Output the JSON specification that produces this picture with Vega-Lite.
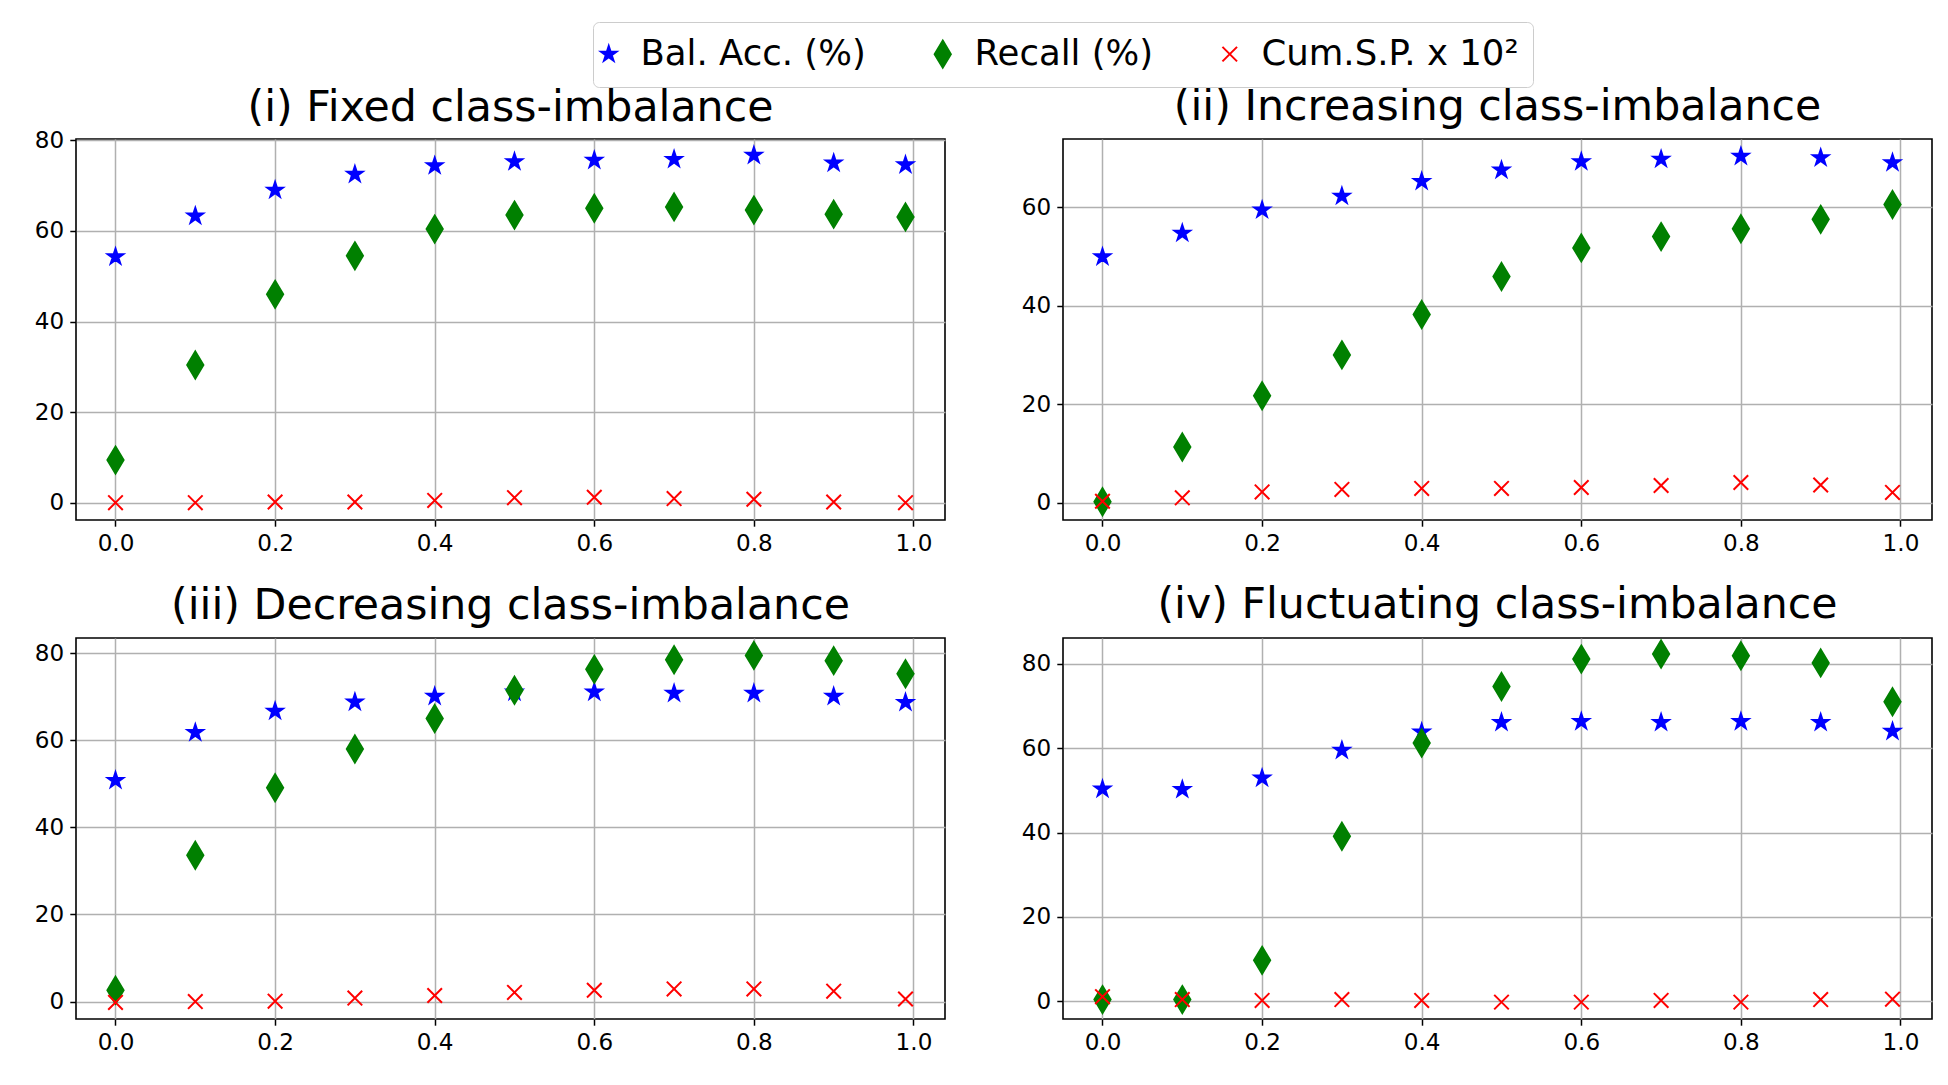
{
  "$schema": "https://vega.github.io/schema/vega-lite/v6.json",
  "background": "white",
  "padding": {"left": 33, "top": 21, "right": 10, "bottom": 10},
  "data": {
    "values": [
      {"p": "i", "s": "b", "x": 0, "v": 54.3},
      {"p": "i", "s": "b", "x": 0.1, "v": 63.3},
      {"p": "i", "s": "b", "x": 0.2, "v": 69.0},
      {"p": "i", "s": "b", "x": 0.3, "v": 72.5},
      {"p": "i", "s": "b", "x": 0.4, "v": 74.4},
      {"p": "i", "s": "b", "x": 0.5, "v": 75.3},
      {"p": "i", "s": "b", "x": 0.6, "v": 75.6},
      {"p": "i", "s": "b", "x": 0.7, "v": 75.8},
      {"p": "i", "s": "b", "x": 0.8, "v": 76.7},
      {"p": "i", "s": "b", "x": 0.9, "v": 75.0},
      {"p": "i", "s": "b", "x": 0.99, "v": 74.6},
      {"p": "i", "s": "r", "x": 0, "v": 9.4},
      {"p": "i", "s": "r", "x": 0.1, "v": 30.4},
      {"p": "i", "s": "r", "x": 0.2, "v": 46.0},
      {"p": "i", "s": "r", "x": 0.3, "v": 54.5},
      {"p": "i", "s": "r", "x": 0.4, "v": 60.4},
      {"p": "i", "s": "r", "x": 0.5, "v": 63.5},
      {"p": "i", "s": "r", "x": 0.6, "v": 65.0},
      {"p": "i", "s": "r", "x": 0.7, "v": 65.3},
      {"p": "i", "s": "r", "x": 0.8, "v": 64.6},
      {"p": "i", "s": "r", "x": 0.9, "v": 63.7},
      {"p": "i", "s": "r", "x": 0.99, "v": 63.1},
      {"p": "i", "s": "c", "x": 0, "v": 0.0},
      {"p": "i", "s": "c", "x": 0.1, "v": 0.0},
      {"p": "i", "s": "c", "x": 0.2, "v": 0.15},
      {"p": "i", "s": "c", "x": 0.3, "v": 0.15},
      {"p": "i", "s": "c", "x": 0.4, "v": 0.5},
      {"p": "i", "s": "c", "x": 0.5, "v": 1.1},
      {"p": "i", "s": "c", "x": 0.6, "v": 1.2},
      {"p": "i", "s": "c", "x": 0.7, "v": 0.9},
      {"p": "i", "s": "c", "x": 0.8, "v": 0.75},
      {"p": "i", "s": "c", "x": 0.9, "v": 0.15},
      {"p": "i", "s": "c", "x": 0.99, "v": 0.0},
      {"p": "ii", "s": "b", "x": 0, "v": 49.9},
      {"p": "ii", "s": "b", "x": 0.1, "v": 54.7},
      {"p": "ii", "s": "b", "x": 0.2, "v": 59.4},
      {"p": "ii", "s": "b", "x": 0.3, "v": 62.2},
      {"p": "ii", "s": "b", "x": 0.4, "v": 65.2},
      {"p": "ii", "s": "b", "x": 0.5, "v": 67.5},
      {"p": "ii", "s": "b", "x": 0.6, "v": 69.2},
      {"p": "ii", "s": "b", "x": 0.7, "v": 69.7},
      {"p": "ii", "s": "b", "x": 0.8, "v": 70.3},
      {"p": "ii", "s": "b", "x": 0.9, "v": 70.0},
      {"p": "ii", "s": "b", "x": 0.99, "v": 69.0},
      {"p": "ii", "s": "r", "x": 0, "v": 0.2},
      {"p": "ii", "s": "r", "x": 0.1, "v": 11.3},
      {"p": "ii", "s": "r", "x": 0.2, "v": 21.7},
      {"p": "ii", "s": "r", "x": 0.3, "v": 30.0},
      {"p": "ii", "s": "r", "x": 0.4, "v": 38.2},
      {"p": "ii", "s": "r", "x": 0.5, "v": 45.9},
      {"p": "ii", "s": "r", "x": 0.6, "v": 51.7},
      {"p": "ii", "s": "r", "x": 0.7, "v": 54.0},
      {"p": "ii", "s": "r", "x": 0.8, "v": 55.6},
      {"p": "ii", "s": "r", "x": 0.9, "v": 57.5},
      {"p": "ii", "s": "r", "x": 0.99, "v": 60.5},
      {"p": "ii", "s": "c", "x": 0, "v": 0.3},
      {"p": "ii", "s": "c", "x": 0.1, "v": 1.0},
      {"p": "ii", "s": "c", "x": 0.2, "v": 2.2},
      {"p": "ii", "s": "c", "x": 0.3, "v": 2.7},
      {"p": "ii", "s": "c", "x": 0.4, "v": 2.9},
      {"p": "ii", "s": "c", "x": 0.5, "v": 2.9},
      {"p": "ii", "s": "c", "x": 0.6, "v": 3.1},
      {"p": "ii", "s": "c", "x": 0.7, "v": 3.5},
      {"p": "ii", "s": "c", "x": 0.8, "v": 4.1},
      {"p": "ii", "s": "c", "x": 0.9, "v": 3.6},
      {"p": "ii", "s": "c", "x": 0.99, "v": 2.1},
      {"p": "iii", "s": "b", "x": 0, "v": 50.8},
      {"p": "iii", "s": "b", "x": 0.1, "v": 61.8},
      {"p": "iii", "s": "b", "x": 0.2, "v": 66.7},
      {"p": "iii", "s": "b", "x": 0.3, "v": 68.8},
      {"p": "iii", "s": "b", "x": 0.4, "v": 70.1},
      {"p": "iii", "s": "b", "x": 0.5, "v": 71.1},
      {"p": "iii", "s": "b", "x": 0.6, "v": 71.1},
      {"p": "iii", "s": "b", "x": 0.7, "v": 70.8},
      {"p": "iii", "s": "b", "x": 0.8, "v": 70.8},
      {"p": "iii", "s": "b", "x": 0.9, "v": 70.1},
      {"p": "iii", "s": "b", "x": 0.99, "v": 68.7},
      {"p": "iii", "s": "r", "x": 0, "v": 2.6},
      {"p": "iii", "s": "r", "x": 0.1, "v": 33.6},
      {"p": "iii", "s": "r", "x": 0.2, "v": 49.1},
      {"p": "iii", "s": "r", "x": 0.3, "v": 58.0},
      {"p": "iii", "s": "r", "x": 0.4, "v": 65.0},
      {"p": "iii", "s": "r", "x": 0.5, "v": 71.5},
      {"p": "iii", "s": "r", "x": 0.6, "v": 76.3},
      {"p": "iii", "s": "r", "x": 0.7, "v": 78.5},
      {"p": "iii", "s": "r", "x": 0.8, "v": 79.5},
      {"p": "iii", "s": "r", "x": 0.9, "v": 78.3},
      {"p": "iii", "s": "r", "x": 0.99, "v": 75.3},
      {"p": "iii", "s": "c", "x": 0, "v": -0.2},
      {"p": "iii", "s": "c", "x": 0.1, "v": 0.0},
      {"p": "iii", "s": "c", "x": 0.2, "v": 0.1},
      {"p": "iii", "s": "c", "x": 0.3, "v": 0.8},
      {"p": "iii", "s": "c", "x": 0.4, "v": 1.4},
      {"p": "iii", "s": "c", "x": 0.5, "v": 2.1},
      {"p": "iii", "s": "c", "x": 0.6, "v": 2.6},
      {"p": "iii", "s": "c", "x": 0.7, "v": 2.9},
      {"p": "iii", "s": "c", "x": 0.8, "v": 2.9},
      {"p": "iii", "s": "c", "x": 0.9, "v": 2.4},
      {"p": "iii", "s": "c", "x": 0.99, "v": 0.6},
      {"p": "iv", "s": "b", "x": 0, "v": 50.3},
      {"p": "iv", "s": "b", "x": 0.1, "v": 50.2},
      {"p": "iv", "s": "b", "x": 0.2, "v": 52.9},
      {"p": "iv", "s": "b", "x": 0.3, "v": 59.5},
      {"p": "iv", "s": "b", "x": 0.4, "v": 63.8},
      {"p": "iv", "s": "b", "x": 0.5, "v": 66.1},
      {"p": "iv", "s": "b", "x": 0.6, "v": 66.3},
      {"p": "iv", "s": "b", "x": 0.7, "v": 66.1},
      {"p": "iv", "s": "b", "x": 0.8, "v": 66.3},
      {"p": "iv", "s": "b", "x": 0.9, "v": 66.1},
      {"p": "iv", "s": "b", "x": 0.99, "v": 64.0},
      {"p": "iv", "s": "r", "x": 0, "v": 0.4},
      {"p": "iv", "s": "r", "x": 0.1, "v": 0.4},
      {"p": "iv", "s": "r", "x": 0.2, "v": 9.7},
      {"p": "iv", "s": "r", "x": 0.3, "v": 39.1},
      {"p": "iv", "s": "r", "x": 0.4, "v": 61.2},
      {"p": "iv", "s": "r", "x": 0.5, "v": 74.6},
      {"p": "iv", "s": "r", "x": 0.6, "v": 81.1},
      {"p": "iv", "s": "r", "x": 0.7, "v": 82.3},
      {"p": "iv", "s": "r", "x": 0.8, "v": 81.9},
      {"p": "iv", "s": "r", "x": 0.9, "v": 80.2},
      {"p": "iv", "s": "r", "x": 0.99, "v": 71.0},
      {"p": "iv", "s": "c", "x": 0, "v": 1.1},
      {"p": "iv", "s": "c", "x": 0.1, "v": 0.4},
      {"p": "iv", "s": "c", "x": 0.2, "v": 0.2},
      {"p": "iv", "s": "c", "x": 0.3, "v": 0.4},
      {"p": "iv", "s": "c", "x": 0.4, "v": 0.2},
      {"p": "iv", "s": "c", "x": 0.5, "v": -0.2},
      {"p": "iv", "s": "c", "x": 0.6, "v": -0.2},
      {"p": "iv", "s": "c", "x": 0.7, "v": 0.2},
      {"p": "iv", "s": "c", "x": 0.8, "v": -0.2},
      {"p": "iv", "s": "c", "x": 0.9, "v": 0.4},
      {"p": "iv", "s": "c", "x": 0.99, "v": 0.5}
    ]
  },
  "columns": 2,
  "spacing": {"row": 26, "column": 74},
  "concat": [
    {
      "title": {"text": "(i) Fixed class-imbalance", "offset": 0},
      "width": 869,
      "height": 381,
      "transform": [{"filter": "datum.p == 'i'"}],
      "mark": {"type": "point", "size": 729, "strokeWidth": 2, "opacity": 1},
      "encoding": {
        "x": {"field": "x", "type": "quantitative", "title": null,
              "scale": {"domain": [-0.0495, 1.0395], "nice": false, "zero": false},
              "axis": {"values": [0, 0.2, 0.4, 0.6, 0.8, 1], "format": ".1f"}},
        "y": {"field": "v", "type": "quantitative", "title": null,
              "scale": {"domain": [-3.83, 80.3], "nice": false, "zero": false},
              "axis": {"values": [0, 20, 40, 60, 80]}},
        "shape": {"field": "s", "type": "nominal", "title": null,
                  "scale": {"domain": ["b", "r", "c"], "range": ["M0,-0.6L0.135,-0.186L0.571,-0.185L0.219,0.071L0.353,0.485L0,0.23L-0.353,0.485L-0.219,0.071L-0.571,-0.185L-0.135,-0.186Z", "M0,-1L0.6,0L0,1L-0.6,0Z", "M-0.54,-0.54L0.54,0.54M-0.54,0.54L0.54,-0.54"]},
                  "legend": {"labelExpr": "datum.value == 'b' ? 'Bal. Acc. (%)' : datum.value == 'r' ? 'Recall (%)' : 'Cum.S.P. x 10²'"}},
        "fill": {"field": "s", "type": "nominal", "title": null,
                 "scale": {"domain": ["b", "r", "c"], "range": ["#0000ff", "#008000", "#ff0000"]}},
        "stroke": {"field": "s", "type": "nominal", "title": null,
                   "scale": {"domain": ["b", "r", "c"], "range": ["#0000ff", "#008000", "#ff0000"]}}
      }
    },
    {
      "title": {"text": "(ii) Increasing class-imbalance", "offset": 10},
      "width": 869,
      "height": 381,
      "transform": [{"filter": "datum.p == 'ii'"}],
      "mark": {"type": "point", "size": 729, "strokeWidth": 2, "opacity": 1},
      "encoding": {
        "x": {"field": "x", "type": "quantitative", "title": null,
              "scale": {"domain": [-0.0495, 1.0395], "nice": false, "zero": false},
              "axis": {"values": [0, 0.2, 0.4, 0.6, 0.8, 1], "format": ".1f"}},
        "y": {"field": "v", "type": "quantitative", "title": null,
              "scale": {"domain": [-3.5, 73.8], "nice": false, "zero": false},
              "axis": {"values": [0, 20, 40, 60]}},
        "shape": {"field": "s", "type": "nominal", "title": null,
                  "scale": {"domain": ["b", "r", "c"], "range": ["M0,-0.6L0.135,-0.186L0.571,-0.185L0.219,0.071L0.353,0.485L0,0.23L-0.353,0.485L-0.219,0.071L-0.571,-0.185L-0.135,-0.186Z", "M0,-1L0.6,0L0,1L-0.6,0Z", "M-0.54,-0.54L0.54,0.54M-0.54,0.54L0.54,-0.54"]},
                  "legend": {"labelExpr": "datum.value == 'b' ? 'Bal. Acc. (%)' : datum.value == 'r' ? 'Recall (%)' : 'Cum.S.P. x 10²'"}},
        "fill": {"field": "s", "type": "nominal", "title": null,
                 "scale": {"domain": ["b", "r", "c"], "range": ["#0000ff", "#008000", "#ff0000"]}},
        "stroke": {"field": "s", "type": "nominal", "title": null,
                   "scale": {"domain": ["b", "r", "c"], "range": ["#0000ff", "#008000", "#ff0000"]}}
      }
    },
    {
      "title": {"text": "(iii) Decreasing class-imbalance", "offset": 10},
      "width": 869,
      "height": 381,
      "transform": [{"filter": "datum.p == 'iii'"}],
      "mark": {"type": "point", "size": 729, "strokeWidth": 2, "opacity": 1},
      "encoding": {
        "x": {"field": "x", "type": "quantitative", "title": null,
              "scale": {"domain": [-0.0495, 1.0395], "nice": false, "zero": false},
              "axis": {"values": [0, 0.2, 0.4, 0.6, 0.8, 1], "format": ".1f"}},
        "y": {"field": "v", "type": "quantitative", "title": null,
              "scale": {"domain": [-4.0, 83.5], "nice": false, "zero": false},
              "axis": {"values": [0, 20, 40, 60, 80]}},
        "shape": {"field": "s", "type": "nominal", "title": null,
                  "scale": {"domain": ["b", "r", "c"], "range": ["M0,-0.6L0.135,-0.186L0.571,-0.185L0.219,0.071L0.353,0.485L0,0.23L-0.353,0.485L-0.219,0.071L-0.571,-0.185L-0.135,-0.186Z", "M0,-1L0.6,0L0,1L-0.6,0Z", "M-0.54,-0.54L0.54,0.54M-0.54,0.54L0.54,-0.54"]},
                  "legend": {"labelExpr": "datum.value == 'b' ? 'Bal. Acc. (%)' : datum.value == 'r' ? 'Recall (%)' : 'Cum.S.P. x 10²'"}},
        "fill": {"field": "s", "type": "nominal", "title": null,
                 "scale": {"domain": ["b", "r", "c"], "range": ["#0000ff", "#008000", "#ff0000"]}},
        "stroke": {"field": "s", "type": "nominal", "title": null,
                   "scale": {"domain": ["b", "r", "c"], "range": ["#0000ff", "#008000", "#ff0000"]}}
      }
    },
    {
      "title": {"text": "(iv) Fluctuating class-imbalance", "offset": 10},
      "width": 869,
      "height": 381,
      "transform": [{"filter": "datum.p == 'iv'"}],
      "mark": {"type": "point", "size": 729, "strokeWidth": 2, "opacity": 1},
      "encoding": {
        "x": {"field": "x", "type": "quantitative", "title": null,
              "scale": {"domain": [-0.0495, 1.0395], "nice": false, "zero": false},
              "axis": {"values": [0, 0.2, 0.4, 0.6, 0.8, 1], "format": ".1f"}},
        "y": {"field": "v", "type": "quantitative", "title": null,
              "scale": {"domain": [-4.2, 86.1], "nice": false, "zero": false},
              "axis": {"values": [0, 20, 40, 60, 80]}},
        "shape": {"field": "s", "type": "nominal", "title": null,
                  "scale": {"domain": ["b", "r", "c"], "range": ["M0,-0.6L0.135,-0.186L0.571,-0.185L0.219,0.071L0.353,0.485L0,0.23L-0.353,0.485L-0.219,0.071L-0.571,-0.185L-0.135,-0.186Z", "M0,-1L0.6,0L0,1L-0.6,0Z", "M-0.54,-0.54L0.54,0.54M-0.54,0.54L0.54,-0.54"]},
                  "legend": {"labelExpr": "datum.value == 'b' ? 'Bal. Acc. (%)' : datum.value == 'r' ? 'Recall (%)' : 'Cum.S.P. x 10²'"}},
        "fill": {"field": "s", "type": "nominal", "title": null,
                 "scale": {"domain": ["b", "r", "c"], "range": ["#0000ff", "#008000", "#ff0000"]}},
        "stroke": {"field": "s", "type": "nominal", "title": null,
                   "scale": {"domain": ["b", "r", "c"], "range": ["#0000ff", "#008000", "#ff0000"]}}
      }
    }
  ],
  "config": {
    "font": "DejaVu Sans",
    "view": {"stroke": "black", "strokeWidth": 1.6},
    "axis": {
      "domain": false,
      "grid": true,
      "gridColor": "#b0b0b0",
      "gridWidth": 1.5,
      "tickColor": "black",
      "tickSize": 6.2,
      "tickWidth": 1.5,
      "labelFont": "DejaVu Sans",
      "labelFontSize": 23.1,
      "labelColor": "black",
      "labelPadding": 6.2,
      "labelOverlap": false,
      "labelFlush": false
    },
    "title": {
      "font": "DejaVu Sans",
      "fontSize": 42.7,
      "fontWeight": "normal",
      "color": "black",
      "anchor": "middle",
      "baseline": "alphabetic"
    },
    "legend": {
      "orient": "none",
      "legendX": 517,
      "legendY": -117,
      "direction": "horizontal",
      "labelFont": "DejaVu Sans",
      "labelFontSize": 35.5,
      "labelColor": "black",
      "labelLimit": 600,
      "labelOffset": 14,
      "symbolOffset": -16,
      "columnPadding": 64,
      "symbolSize": 729,
      "symbolStrokeWidth": 2,
      "strokeColor": "#cccccc",
      "fillColor": "white",
      "padding": 14,
      "cornerRadius": 6
    }
  }
}
